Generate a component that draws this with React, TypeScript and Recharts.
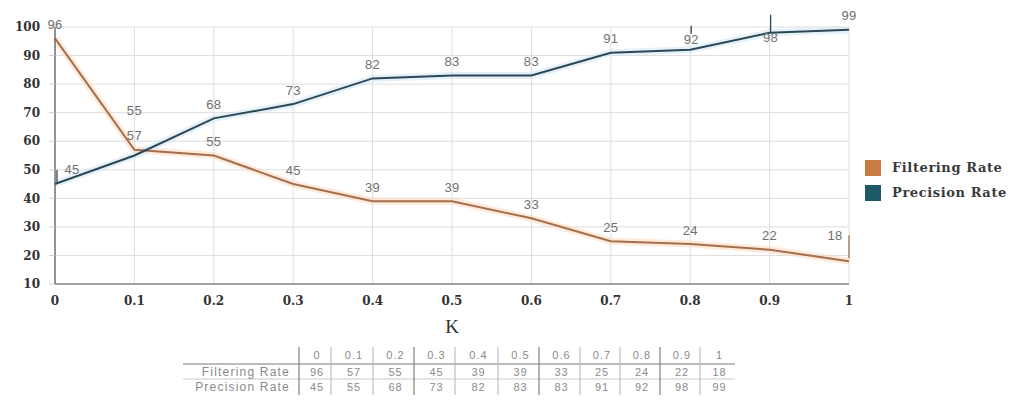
import React from 'react';
import { LineChart, Line, XAxis, YAxis, CartesianGrid } from 'recharts';

// K values along the x axis and their printed labels
const kValues = [0, 0.1, 0.2, 0.3, 0.4, 0.5, 0.6, 0.7, 0.8, 0.9, 1];
const kLabels = ['0', '0.1', '0.2', '0.3', '0.4', '0.5', '0.6', '0.7', '0.8', '0.9', '1'];

// series values (%)
const filteringRate = [96, 57, 55, 45, 39, 39, 33, 25, 24, 22, 18];
const precisionRate = [45, 55, 68, 73, 82, 83, 83, 91, 92, 98, 99];

// y axis ticks
const yTicks = [10, 20, 30, 40, 50, 60, 70, 80, 90, 100];

const SERIES = [
  { key: 'filtering', name: 'Filtering Rate', values: filteringRate, line: '#a46f4e', halo: '#fbd9bd', swatch: '#c97a45' },
  { key: 'precision', name: 'Precision Rate', values: precisionRate, line: '#2d4756', halo: '#cfe6f2', swatch: '#1f5866' },
];

const rows = kValues.map((k, i) => ({ k, filtering: filteringRate[i], precision: precisionRate[i] }));

// label placement tweaks where neighbouring labels would collide;
// leader = [x offset, y1, y2] relative to the point
type Tweak = { dx?: number; dy?: number; leader?: [number, number, number] };
const labelTweaks: Record<string, Record<number, Tweak>> = {
  filtering: { 10: { dx: -14, dy: -26, leader: [0, -26, -3] } },
  precision: {
    0: { dx: 17, dy: -15, leader: [2, -14, 0] },
    1: { dy: -45 },
    8: { dx: 1, dy: -10, leader: [1, -24, -16] },
    9: { dx: 1, dy: 5, leader: [1, -18, 0] },
  },
};

const makeLabel = (key: string, color: string) => (props: any) => {
  const { x, y, value, index } = props;
  const t: Tweak = labelTweaks[key]?.[index] ?? {};
  const cx = x + (t.dx ?? 0);
  const cy = y + (t.dy ?? -14);
  return (
    <g key={`${key}-lbl-${index}`}>
      {t.leader && (
        <line
          x1={x + t.leader[0]}
          x2={x + t.leader[0]}
          y1={y + t.leader[1]}
          y2={y + t.leader[2]}
          stroke={color}
          strokeWidth={1.3}
        />
      )}
      <text
        x={cx}
        y={cy}
        dy="0.35em"
        textAnchor="middle"
        fill="#707070"
        fontSize={13}
        letterSpacing={0.3}
        fontFamily="'Liberation Sans', Arial, sans-serif"
      >
        {value}
      </text>
    </g>
  );
};

const tickFont = {
  fontFamily: "'DejaVu Serif', serif",
  fontWeight: 700,
  fontSize: 12,
  fill: '#333',
};

// data table under the chart
const tableLeft = 183;
const labelColRight = 299;
const colWidths = [32, 42, 41, 41, 43, 41, 41, 40, 40, 40, 35];
const colEdges = colWidths.reduce<number[]>((acc, w) => [...acc, acc[acc.length - 1] + w], [labelColRight]);
const tableRight = colEdges[colEdges.length - 1];

const DataTable = () => {
  const font = "'Liberation Sans', Arial, sans-serif";
  const headerY = 15;
  const row1Y = 32;
  const row2Y = 47;
  const cell = { fontSize: 11, letterSpacing: 1, fill: '#8a8a8a', fontFamily: font };
  return (
    <svg width={1016} height={60} style={{ position: 'absolute', left: 0, top: 340 }}>
      <line x1={tableLeft} x2={tableRight} y1={24} y2={24} stroke="#7a7a7a" strokeWidth={1.2} />
      <line x1={tableLeft} x2={tableRight} y1={39} y2={39} stroke="#c8c8c8" strokeWidth={1} />
      {colEdges.slice(0, -1).map((x, i) => (
        <line
          key={`sep-${i}`}
          x1={x}
          x2={x}
          y1={7}
          y2={55}
          stroke={i % 3 === 0 ? '#6a6a6a' : '#b4b4b4'}
          strokeWidth={1}
        />
      ))}
      <text x={290} y={row1Y} dy="0.35em" textAnchor="end" fontSize={12} letterSpacing={1.2} fill="#8a8a8a" fontFamily={font}>
        {SERIES[0].name}
      </text>
      <text x={290} y={row2Y} dy="0.35em" textAnchor="end" fontSize={12} letterSpacing={1.2} fill="#8a8a8a" fontFamily={font}>
        {SERIES[1].name}
      </text>
      {kLabels.map((lbl, i) => {
        const cx = (colEdges[i] + colEdges[i + 1]) / 2 + 2;
        return (
          <g key={`col-${i}`}>
            <text x={cx} y={headerY} dy="0.35em" textAnchor="middle" {...cell}>
              {lbl}
            </text>
            <text x={cx} y={row1Y} dy="0.35em" textAnchor="middle" {...cell}>
              {filteringRate[i]}
            </text>
            <text x={cx} y={row2Y} dy="0.35em" textAnchor="middle" {...cell}>
              {precisionRate[i]}
            </text>
          </g>
        );
      })}
    </svg>
  );
};

const LegendBox = () => (
  <div style={{ position: 'absolute', left: 865, top: 155 }}>
    {SERIES.map((s) => (
      <div key={s.key} style={{ display: 'flex', alignItems: 'center', height: 25 }}>
        <div style={{ width: 16, height: 16, background: s.swatch, marginRight: 11 }} />
        <span
          style={{
            fontFamily: "'DejaVu Serif', serif",
            fontWeight: 700,
            fontSize: 13,
            letterSpacing: 0.6,
            color: '#3a3a3a',
            whiteSpace: 'nowrap',
          }}
        >
          {s.name}
        </span>
      </div>
    ))}
  </div>
);

export default function App() {
  return (
    <div style={{ position: 'absolute', left: 0, top: 0, width: 1016, height: 400, background: '#fff' }}>
      <LineChart width={1016} height={400} data={rows} margin={{ top: 27, right: 167, left: 5, bottom: 86 }}>
        <CartesianGrid stroke="#dedede" strokeWidth={1} />
        <XAxis
          dataKey="k"
          type="number"
          domain={[0, 1]}
          ticks={kValues}
          tickFormatter={(v: number) => kLabels[kValues.indexOf(v)] ?? String(v)}
          height={30}
          tick={tickFont}
          tickLine={false}
          tickSize={6}
          tickMargin={6}
          axisLine={{ stroke: '#555', strokeWidth: 1.2 }}
          label={{
            value: 'K',
            position: 'bottom',
            offset: 6,
            style: { fontFamily: "'Liberation Serif', 'Times New Roman', serif", fontSize: 19, fill: '#333' },
          }}
        />
        <YAxis
          type="number"
          domain={[10, 100]}
          ticks={yTicks}
          width={50}
          tick={tickFont}
          tickSize={6}
          tickMargin={9}
          tickLine={{ stroke: '#cfcfcf' }}
          axisLine={{ stroke: '#555', strokeWidth: 1.2 }}
        />
        {SERIES.map((s) => (
          <Line
            key={`${s.key}-halo`}
            dataKey={s.key}
            stroke={s.halo}
            strokeOpacity={0.55}
            strokeWidth={7}
            dot={false}
            activeDot={false}
            legendType="none"
            isAnimationActive={false}
          />
        ))}
        {SERIES.map((s) => (
          <Line
            key={s.key}
            dataKey={s.key}
            name={s.name}
            stroke={s.line}
            strokeWidth={2}
            dot={false}
            activeDot={false}
            label={makeLabel(s.key, s.line)}
            isAnimationActive={false}
          />
        ))}
      </LineChart>
      <LegendBox />
      <DataTable />
    </div>
  );
}
